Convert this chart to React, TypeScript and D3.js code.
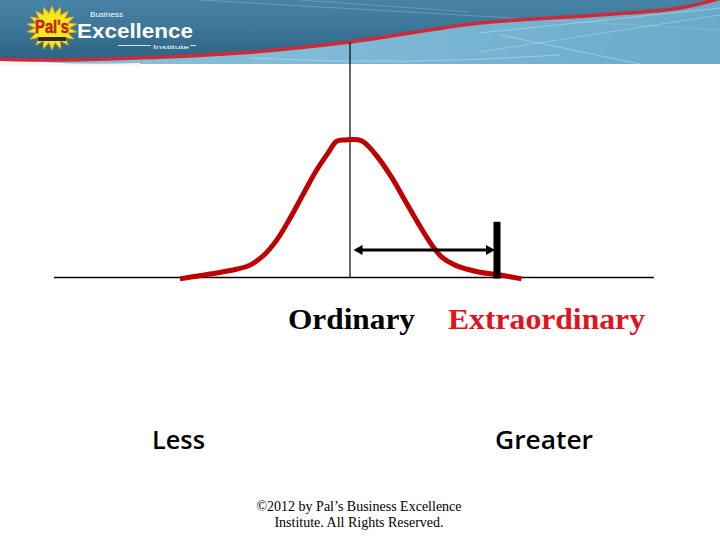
import React from "react";
import * as d3 from "d3";

// ---- data ----
const curveX = [-3.4, -2.8, -2.27, -2.0, -1.73, -1.47, -1.2, -0.93, -0.67, -0.43, -0.27, -0.1, 0.23, 0.5, 0.83, 1.1, 1.37, 1.63, 1.83, 2.1, 2.57, 2.97, 3.43];
const curveY = [-0.01, 0.025, 0.06, 0.09, 0.16, 0.27, 0.43, 0.61, 0.78, 0.91, 0.99, 1.0, 0.995, 0.9, 0.73, 0.56, 0.39, 0.24, 0.15, 0.09, 0.04, 0.02, -0.01];
const axisExtent = [-5.92, 6.08];
const verticalTop = 1.71;
const arrowRange = [0.07, 2.9];
const arrowLevel = 0.2;
const barX = 2.94;
const barHeight = 0.405;
const categoryLabels = ["Ordinary", "Extraordinary"];
const scaleLabels = ["Less", "Greater"];
const footerLines = ["\u00A92012 by Pal\u2019s Business Excellence", "Institute. All Rights Reserved."];

const W = 720;
const H = 540;

function Header() {
  // decorative banner
  const redPts: [number, number][] = [[-5, 59], [60, 60], [150, 57.5], [240, 53], [350, 42], [480, 23], [600, 15], [680, 8], [725, -3]];
  const redLine = d3.line().curve(d3.curveCatmullRom)(redPts) as string;
  const darkArea = redLine + " L725,-5 L-5,-5 Z";
  // starburst
  const cx = 52, cy = 28, n = 18;
  const star = d3.range(n * 2).map((i) => {
    const a = (Math.PI * i) / n - Math.PI / 2;
    const r = i % 2 === 0 ? 24 : 16;
    return [cx + r * Math.cos(a) * 1.05, cy + r * Math.sin(a) * 0.92] as [number, number];
  });
  return (
    <g>
      <defs>
        <linearGradient id="lightBlue" x1="0" y1="0" x2="1" y2="0">
          <stop offset="0" stopColor="#8cc4dc" />
          <stop offset="0.5" stopColor="#7db9d6" />
          <stop offset="1" stopColor="#6aaaca" />
        </linearGradient>
        <linearGradient id="darkBlue" x1="0" y1="0" x2="0" y2="1">
          <stop offset="0" stopColor="#4a86a8" />
          <stop offset="0.5" stopColor="#3c7698" />
          <stop offset="1" stopColor="#2d6384" />
        </linearGradient>
      </defs>
      <rect x={0} y={0} width={W} height={64} fill="url(#lightBlue)" />
      <path d="M0,58 Q60,66 140,63 L140,66 L0,66 Z" fill="#f4f7f9" />
      <path d={darkArea} fill="url(#darkBlue)" />
      <path d="M200,0 L720,30" stroke="#a9d3e6" strokeOpacity={0.35} strokeWidth={1} />
      <path d="M300,0 L470,12" stroke="#a9d3e6" strokeOpacity={0.3} strokeWidth={1} />
      <path d="M480,33 L720,8" stroke="#cde6f1" strokeOpacity={0.5} strokeWidth={1} />
      <path d="M480,52 L720,15" stroke="#cde6f1" strokeOpacity={0.4} strokeWidth={1} />
      <path d="M500,35 L640,64" stroke="#cde6f1" strokeOpacity={0.5} strokeWidth={1} />
      <path d="M250,58 Q400,66 560,55" stroke="#cde6f1" strokeOpacity={0.5} strokeWidth={1} fill="none" />
      <path d={redLine} fill="none" stroke="#d02a36" strokeWidth={3.5} />
      <polygon points={star.map((p) => p.join(",")).join(" ")} fill="#f6e81a" stroke="#e8a617" strokeWidth={1} />
      <text x={52} y={33} textAnchor="middle" fontFamily="Liberation Sans, Arial, sans-serif" fontWeight="bold" fontSize={18} fill="#d8222b" stroke="#8a1015" strokeWidth={0.4} textLength={34} lengthAdjust="spacingAndGlyphs">Pal's</text>
      <rect x={38} y={37} width={28} height={4} fill="#2a2a2a" />
      <text x={90} y={17} fontFamily="Liberation Sans, Arial, sans-serif" fontSize={7} fill="#ffffff" textLength={33} lengthAdjust="spacingAndGlyphs">Business</text>
      <text x={77} y={38} fontFamily="Liberation Sans, Arial, sans-serif" fontWeight="bold" fontSize={21} fill="#ffffff" textLength={116} lengthAdjust="spacingAndGlyphs">Excellence</text>
      <line x1={118} y1={45.5} x2={151} y2={45.5} stroke="#ffffff" strokeWidth={0.8} />
      <text x={153} y={48.5} fontFamily="Liberation Sans, Arial, sans-serif" fontSize={6} fill="#ffffff" textLength={36} lengthAdjust="spacingAndGlyphs">Institute</text>
      <line x1={190} y1={45.5} x2={196} y2={45.5} stroke="#ffffff" strokeWidth={0.8} />
    </g>
  );
}

export default function App() {
  const x = d3.scaleLinear().domain([-6, 6]).range([50, 650]);
  const y = d3.scaleLinear().domain([0, 1]).range([277.5, 140]);
  const pts = curveX.map((v, i) => [v, curveY[i]] as [number, number]);
  const line = d3
    .line<[number, number]>()
    .x((d) => x(d[0]))
    .y((d) => y(d[1]))
    .curve(d3.curveCatmullRom.alpha(0.5));

  const ay = y(arrowLevel);
  const ax0 = x(arrowRange[0]);
  const ax1 = x(arrowRange[1]);
  const headLen = 9;
  const headHalf = 5;

  return (
    <svg width={W} height={H} style={{ position: "absolute", left: 0, top: 0, background: "#ffffff" }}>
      <rect x={0} y={0} width={W} height={H} fill="#ffffff" />
      <Header />
      {/* axes */}
      <line x1={x(axisExtent[0])} x2={x(axisExtent[1])} y1={y(0)} y2={y(0)} stroke="#000" strokeWidth={1.5} />
      <line x1={x(0)} x2={x(0)} y1={y(verticalTop)} y2={y(0)} stroke="#000" strokeWidth={1.2} />
      {/* bell curve */}
      <path d={line(pts) as string} fill="none" stroke="#c00000" strokeWidth={5} />
      {/* double arrow */}
      <line x1={ax0 + headLen - 1} x2={ax1 - headLen + 1} y1={ay} y2={ay} stroke="#000" strokeWidth={3} />
      <polygon points={`${ax0},${ay} ${ax0 + headLen},${ay - headHalf} ${ax0 + headLen},${ay + headHalf}`} fill="#000" />
      <polygon points={`${ax1},${ay} ${ax1 - headLen},${ay - headHalf} ${ax1 - headLen},${ay + headHalf}`} fill="#000" />
      {/* threshold bar */}
      <rect x={x(barX) - 3.5} y={y(barHeight)} width={7} height={y(0) - y(barHeight) + 1} fill="#000" />
      {/* labels */}
      <text x={288} y={329} fontFamily="Liberation Serif, Times New Roman, serif" fontWeight="bold" fontSize={29} fill="#000" textLength={127} lengthAdjust="spacingAndGlyphs">{categoryLabels[0]}</text>
      <text x={448} y={329} fontFamily="Liberation Serif, Times New Roman, serif" fontWeight="bold" fontSize={29} fill="#e0141c" textLength={197} lengthAdjust="spacingAndGlyphs">{categoryLabels[1]}</text>
      <text x={152} y={449} fontFamily="Open Sans, sans-serif" fontWeight={600} fontSize={25} fill="#000" textLength={53} lengthAdjust="spacingAndGlyphs">{scaleLabels[0]}</text>
      <text x={495} y={449} fontFamily="Open Sans, sans-serif" fontWeight={600} fontSize={25} fill="#000" textLength={98} lengthAdjust="spacingAndGlyphs">{scaleLabels[1]}</text>
      {footerLines.map((t, i) => (
        <text key={i} x={359} y={511 + i * 16} textAnchor="middle" fontFamily="Liberation Serif, Times New Roman, serif" fontSize={14} fill="#000">{t}</text>
      ))}
    </svg>
  );
}
